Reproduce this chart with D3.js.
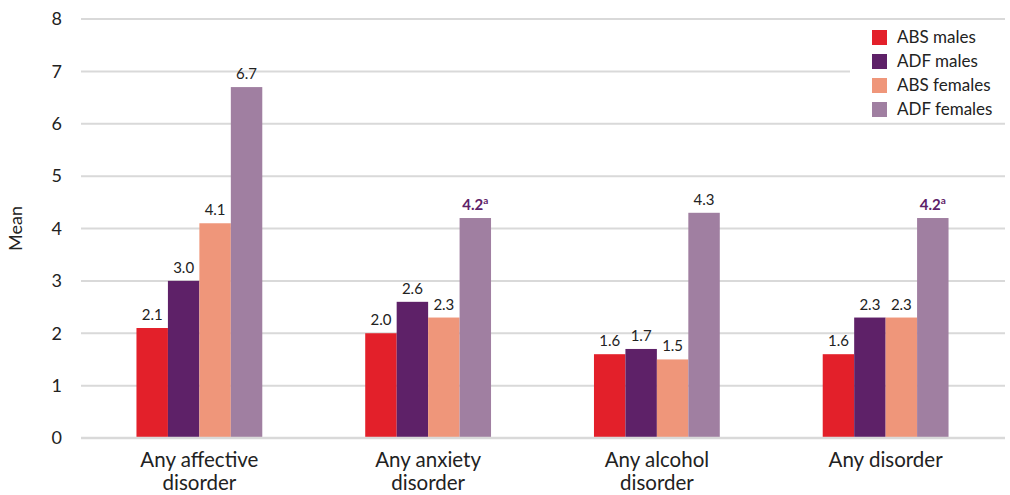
<!DOCTYPE html>
<html><head><meta charset="utf-8">
<script src="https://cdn.jsdelivr.net/npm/d3@7"></script>
<style>body{margin:0;background:#fff;} text{font-family:"Lato","DejaVu Sans",sans-serif;}</style>
</head><body><svg id="c" width="1010" height="495"></svg>
<script>
const categories = [["Any affective","disorder"],["Any anxiety","disorder"],["Any alcohol","disorder"],["Any disorder"]];
const seriesNames = ["ABS males","ADF males","ABS females","ADF females"];
const absMales = [2.1, 2.0, 1.6, 1.6];
const adfMales = [3.0, 2.6, 1.7, 2.3];
const absFemales = [4.1, 2.3, 1.5, 2.3];
const adfFemales = [6.7, 4.2, 4.3, 4.2];
const adfFemalesNote = ["", "a", "", "a"];
const yTicks = [0,1,2,3,4,5,6,7,8];
const colors = ["#e3202a","#5e2168","#ef967a","#a07fa1"];

(function(){
const series = [absMales, adfMales, absFemales, adfFemales];
const svg = d3.select("#c");
const mLeft = 81, mRight = 1005, mTop = 19, mBottom = 438;
const y = d3.scaleLinear().domain([0,8]).range([mBottom, mTop]);
const x0 = d3.scaleBand().domain(d3.range(categories.length)).range([85,1000]).paddingInner(0.45).paddingOuter(0.225);
const x1 = d3.scaleBand().domain(d3.range(series.length)).range([0, x0.bandwidth()]);

svg.append("g").selectAll("line").data(yTicks.filter(d=>d>0)).join("line")
  .attr("x1", mLeft).attr("x2", mRight).attr("y1", d=>y(d)).attr("y2", d=>y(d))
  .attr("stroke", "#d9d9d9").attr("stroke-width", 2);

const yAxis = d3.axisLeft(y).tickValues(yTicks).tickSize(0).tickPadding(0);
const ga = svg.append("g").attr("transform", `translate(${mLeft-19},0)`).call(yAxis);
ga.select(".domain").remove();
ga.selectAll("text").attr("font-size", 18).attr("fill", "#222").attr("font-family", "Lato, sans-serif");

svg.append("text").attr("transform", `translate(22,${y(4)}) rotate(-90)`)
  .attr("text-anchor","middle").attr("font-size",18).attr("fill","#222").text("Mean");

series.forEach((vals, s) => {
  svg.append("g").selectAll("rect").data(vals).join("rect")
    .attr("x", (d,i)=>x0(i)+x1(s)).attr("width", x1.bandwidth())
    .attr("y", d=>y(d)).attr("height", d=>y(0)-y(d)).attr("fill", colors[s]);
  svg.append("g").selectAll("text").data(vals).join("text")
    .attr("x", (d,i)=>x0(i)+x1(s)+x1.bandwidth()/2).attr("y", d=>y(d)-8)
    .attr("text-anchor","middle").attr("font-size",15)
    .each(function(d,i){
      const t = d3.select(this);
      const note = s===3 ? adfFemalesNote[i] : "";
      if (note) {
        t.attr("fill","#5e2168").attr("font-weight","bold");
        t.append("tspan").text(d.toFixed(1));
        t.append("tspan").attr("font-size",10).attr("dy",-6).text(note);
      } else {
        t.attr("fill","#222").text(d.toFixed(1));
      }
    });
});

svg.append("line").attr("x1", mLeft).attr("x2", mRight).attr("y1", y(0)).attr("y2", y(0))
  .attr("stroke","#d9d9d9").attr("stroke-width",2.5);

const gx = svg.append("g");
categories.forEach((lines,i)=>{
  const cx = x0(i)+x0.bandwidth()/2;
  const t = gx.append("text").attr("x", cx).attr("y", 467)
    .attr("text-anchor","middle").attr("font-size",20.5).attr("fill","#222");
  lines.forEach((l,j)=>t.append("tspan").attr("x", cx).attr("dy", j===0?0:23).text(l));
});

const lg = svg.append("g");
lg.append("rect").attr("x",850).attr("y",27).attr("width",160).attr("height",94).attr("fill","#fff");
seriesNames.forEach((n,i)=>{
  lg.append("rect").attr("x",872).attr("y",30+i*24).attr("width",15).attr("height",15).attr("fill",colors[i]);
  lg.append("text").attr("x",897).attr("y",43+i*24).attr("font-size",17).attr("fill","#222").text(n);
});
})();
</script></body></html>
